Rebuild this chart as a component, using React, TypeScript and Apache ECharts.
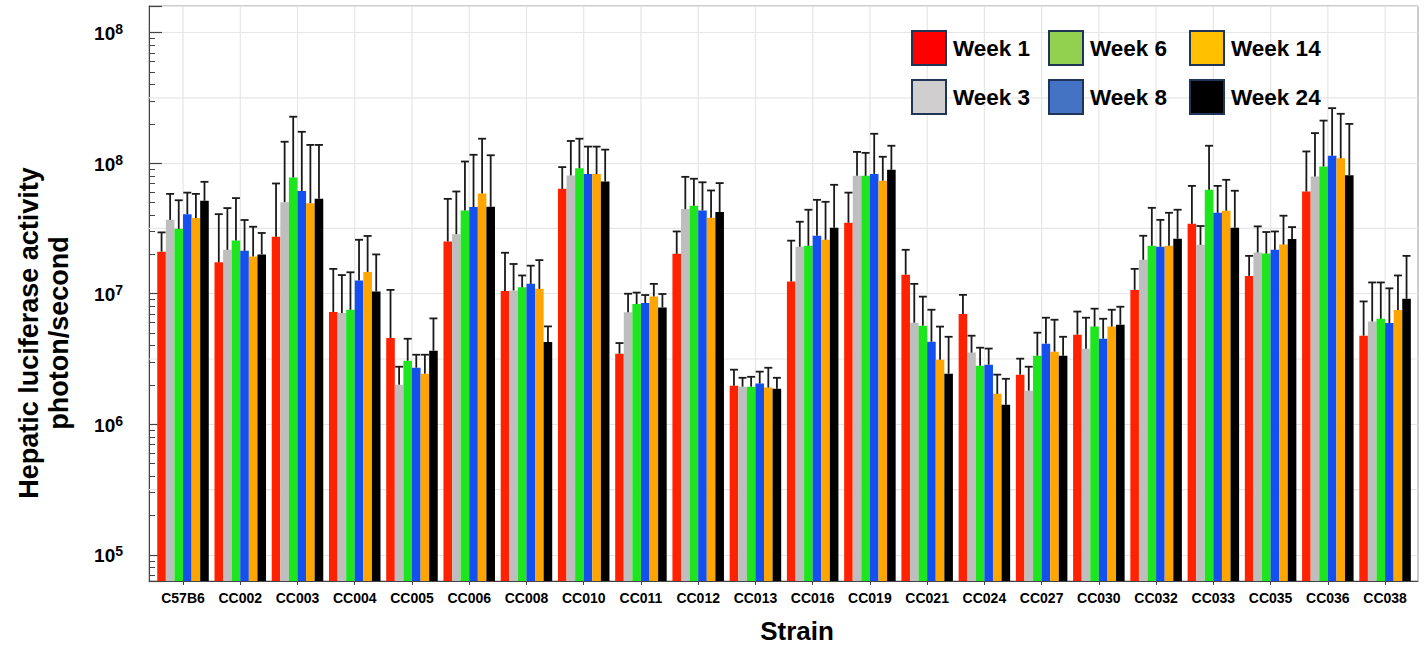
import React, { useEffect, useRef } from 'react';
import * as echarts from 'echarts';

// ---------- data ----------
const strains = ['C57B6', 'CC002', 'CC003', 'CC004', 'CC005', 'CC006', 'CC008', 'CC010', 'CC011', 'CC012', 'CC013',
  'CC016', 'CC019', 'CC021', 'CC024', 'CC027', 'CC030', 'CC032', 'CC033', 'CC035', 'CC036', 'CC038'];
const weeks = ['Week 1', 'Week 3', 'Week 6', 'Week 8', 'Week 14', 'Week 24'];

const week1 = [2.1e7, 1.74e7, 2.73e7, 7.25e6, 4.58e6, 2.51e7, 1.05e7, 6.36e7, 3.47e6, 2.02e7, 1.97e6, 1.24e7, 3.5e7, 1.4e7, 7.0e6, 2.4e6, 4.86e6, 1.07e7, 3.43e7, 1.37e7, 6.07e7, 4.77e6];
const week3 = [3.68e7, 2.17e7, 5.03e7, 7.11e6, 2.01e6, 2.86e7, 1.06e7, 8.06e7, 7.2e6, 4.45e7, 1.94e6, 2.29e7, 8.0e7, 6.0e6, 3.54e6, 1.81e6, 3.79e6, 1.82e7, 2.37e7, 2.07e7, 7.9e7, 6.13e6];
const week6 = [3.14e7, 2.56e7, 7.77e7, 7.54e6, 3.07e6, 4.34e7, 1.12e7, 9.15e7, 8.34e6, 4.72e7, 1.94e6, 2.33e7, 8.0e7, 5.69e6, 2.81e6, 3.35e6, 5.6e6, 2.33e7, 6.25e7, 2.03e7, 9.44e7, 6.43e6];
const week8 = [4.07e7, 2.13e7, 6.13e7, 1.26e7, 2.71e6, 4.61e7, 1.19e7, 8.26e7, 8.49e6, 4.34e7, 2.05e6, 2.78e7, 8.28e7, 4.29e6, 2.86e6, 4.14e6, 4.52e6, 2.29e7, 4.17e7, 2.17e7, 1.14e8, 5.96e6];
const week14 = [3.8e7, 1.93e7, 4.94e7, 1.47e7, 2.44e6, 5.86e7, 1.09e7, 8.26e7, 9.53e6, 3.82e7, 1.91e6, 2.59e7, 7.34e7, 3.12e6, 1.71e6, 3.6e6, 5.6e6, 2.33e7, 4.32e7, 2.38e7, 1.09e8, 7.5e6];
const week24 = [5.15e7, 2.0e7, 5.33e7, 1.04e7, 3.66e6, 4.63e7, 4.27e6, 7.24e7, 7.85e6, 4.22e7, 1.87e6, 3.2e7, 8.89e7, 2.44e6, 1.41e6, 3.35e6, 5.79e6, 2.64e7, 3.2e7, 2.62e7, 8.1e7, 9.15e6];

// upper ends of the error bars (mean + SD)
const week1Upper = [2.95e7, 4.07e7, 6.99e7, 1.55e7, 1.07e7, 5.33e7, 2.06e7, 9.33e7, 4.19e6, 3.0e7, 2.62e6, 2.55e7, 5.95e7, 2.17e7, 9.8e6, 3.18e6, 7.3e6, 1.55e7, 6.7e7, 1.95e7, 1.23e8, 8.73e6];
const week3Upper = [5.82e7, 4.53e7, 1.46e8, 1.39e7, 2.76e6, 6.07e7, 1.69e7, 1.48e8, 1.0e7, 7.86e7, 2.27e6, 3.56e7, 1.22e8, 1.19e7, 4.77e6, 2.76e6, 6.55e6, 2.78e7, 3.3e7, 3.28e7, 1.7e8, 1.22e7];
const week6Upper = [5.2e7, 5.4e7, 2.27e8, 1.46e7, 4.52e6, 1.03e8, 1.38e7, 1.54e8, 1.02e7, 7.6e7, 2.31e6, 4.4e7, 1.2e8, 9.5e6, 3.86e6, 5.03e6, 7.68e6, 4.55e7, 1.36e8, 2.97e7, 2.12e8, 1.22e7];
const week8Upper = [5.95e7, 3.67e7, 1.74e8, 2.59e7, 3.41e6, 1.16e8, 1.64e7, 1.34e8, 9.77e6, 7.14e7, 2.53e6, 5.24e7, 1.68e8, 7.54e6, 3.8e6, 6.55e6, 6.43e6, 3.68e7, 6.7e7, 3.0e7, 2.64e8, 1.1e7];
const week14Upper = [5.82e7, 3.26e7, 1.38e8, 2.77e7, 3.41e6, 1.54e8, 1.81e7, 1.34e8, 1.19e7, 6.18e7, 2.71e6, 5.06e7, 1.12e8, 5.6e6, 2.4e6, 6.32e6, 7.54e6, 4.17e7, 7.46e7, 3.96e7, 2.39e8, 1.38e7];
const week24Upper = [7.2e7, 2.92e7, 1.38e8, 2.0e7, 6.47e6, 1.15e8, 5.62e6, 1.27e8, 9.95e6, 7.04e7, 2.27e6, 6.83e7, 1.36e8, 4.68e6, 2.23e6, 4.68e6, 7.95e6, 4.4e7, 6.15e7, 3.24e7, 2.0e8, 1.95e7];

// y tick labels as printed on the figure (exponent shown for 1e5..1e9)
const yTickExponents = [5, 6, 7, 8, 9];
const yTickSuperscripts = ['5', '6', '7', '8', '8'];
const halfDecadeLines = [3.1623e5, 3.1623e6, 3.1623e7, 3.1623e8];

// ---------- styles ----------
const means = [week1, week3, week6, week8, week14, week24];
const uppers = [week1Upper, week3Upper, week6Upper, week8Upper, week14Upper, week24Upper];
const barColors = ['#ff2200', '#bebebe', '#1ee61e', '#1450f0', '#ffa500', '#000000'];
const legendColors = ['#ff0000', '#d0cece', '#92d050', '#4472c4', '#ffc000', '#000000'];
const Y_MIN = 6.3e4;
const Y_MAX = 1.6e9;
const FONT = '"Liberation Sans", Arial, sans-serif';
const GRID_COLOR = '#e6e6e6';
const BAR_CAT_GAP = 0.1;

export default function App() {
  const ref = useRef<HTMLDivElement>(null);

  useEffect(() => {
    document.body.style.margin = '0';
    if (!ref.current) return;
    const chart = echarts.init(ref.current, undefined, { renderer: 'svg' });

    const errSeries = means.map((m, s) => ({
      type: 'custom',
      xAxisIndex: 1,
      yAxisIndex: 1,
      z: 3,
      silent: true,
      data: m.map((v, i) => [i, v, uppers[s][i]]),
      renderItem: (params: any, api: any) => {
        const i = api.value(0);
        const p0 = api.coord([i, api.value(1)]);
        const p1 = api.coord([i, api.value(2)]);
        const band = api.coord([1, api.value(1)])[0] - api.coord([0, api.value(1)])[0];
        const bw = (band * (1 - BAR_CAT_GAP)) / 6;
        const x = p0[0] + (s - 2.5) * bw;
        const style = { stroke: '#1a1a1a', lineWidth: 1.8 };
        return {
          type: 'group',
          children: [
            { type: 'line', shape: { x1: x, y1: p0[1], x2: x, y2: p1[1] }, style },
            { type: 'line', shape: { x1: x - 4, y1: p1[1], x2: x + 4, y2: p1[1] }, style },
          ],
        };
      },
    }));

    const barSeries = means.map((m, s) => ({
      type: 'bar',
      name: weeks[s],
      xAxisIndex: 1,
      yAxisIndex: 1,
      data: m,
      barGap: '0%',
      barCategoryGap: `${BAR_CAT_GAP * 100}%`,
      itemStyle: { color: barColors[s] },
      z: 2,
      clip: true,
    }));

    const vGrid = {
      type: 'custom',
      xAxisIndex: 1,
      yAxisIndex: 1,
      z: 1,
      silent: true,
      data: strains.map((_, i) => [i, 1e6]),
      renderItem: (params: any, api: any) => {
        const cs = params.coordSys;
        const x = api.coord([api.value(0), api.value(1)])[0];
        return { type: 'line', shape: { x1: x, y1: cs.y, x2: x, y2: cs.y + cs.height }, style: { stroke: GRID_COLOR, lineWidth: 1.2 } };
      },
    };

    const hGrid = {
      type: 'custom',
      xAxisIndex: 0,
      yAxisIndex: 0,
      z: 1,
      silent: true,
      data: halfDecadeLines.map((v) => [0, v]),
      renderItem: (params: any, api: any) => {
        const cs = params.coordSys;
        const y = api.coord([0, api.value(1)])[1];
        return { type: 'line', shape: { x1: cs.x, y1: y, x2: cs.x + cs.width, y2: y }, style: { stroke: GRID_COLOR, lineWidth: 1.2 } };
      },
    };

    const legendCols = [912, 1049, 1190];
    const legendRows = [31, 80];
    const legendGraphics: any[] = [];
    weeks.forEach((w, s) => {
      const bx = legendCols[Math.floor(s / 2)];
      const by = legendRows[s % 2];
      legendGraphics.push({
        type: 'rect',
        shape: { x: bx, y: by, width: 34, height: 34 },
        style: { fill: legendColors[s], stroke: '#1f3557', lineWidth: 2 },
        z: 10,
      });
      legendGraphics.push({
        type: 'text',
        x: bx + 41,
        y: by + 17,
        style: { text: w, font: `bold 22.5px ${FONT}`, fill: '#000', align: 'left', verticalAlign: 'middle', textAlign: 'left', textVerticalAlign: 'middle' },
        z: 10,
      });
    });

    chart.setOption({
      animation: false,
      grid: [
        { left: 149, top: 6, width: 1269, height: 575, show: true, borderColor: '#9a9a9a', borderWidth: 1, backgroundColor: 'transparent' },
        { left: 154.4, top: 6, width: 1259.3, height: 575 },
      ],
      xAxis: [
        {
          gridIndex: 0, type: 'value', min: 0, max: 1,
          axisLine: { show: true, lineStyle: { color: '#444', width: 1 } },
          axisTick: { show: false }, axisLabel: { show: false }, splitLine: { show: false },
        },
        {
          gridIndex: 1, type: 'category', data: strains, boundaryGap: true,
          axisLine: { show: false },
          axisTick: { show: true, alignWithLabel: true, length: 4, lineStyle: { color: '#444' } },
          axisLabel: { interval: 0, margin: 10, fontSize: 14, fontWeight: 'bold', fontFamily: FONT, color: '#000' },
          splitLine: { show: false },
        },
      ],
      yAxis: [
        {
          gridIndex: 0, type: 'log', logBase: 10, min: Y_MIN, max: Y_MAX,
          axisLine: { show: true, lineStyle: { color: '#444', width: 1 } },
          axisTick: { show: true, inside: true, length: 13, lineStyle: { color: '#444', width: 1.2 } },
          minorTick: { show: true, splitNumber: 9, length: 6, lineStyle: { color: '#444', width: 1 } },
          splitLine: { show: true, lineStyle: { color: GRID_COLOR, width: 1.2 } },
          axisLabel: {
            margin: 26,
            showMinLabel: false,
            showMaxLabel: false,
            formatter: (v: number) => {
              const e = Math.log10(v);
              const k = yTickExponents.findIndex((x) => Math.abs(x - e) < 1e-6);
              return k < 0 ? '' : `{b|10}{s|${yTickSuperscripts[k]}}`;
            },
            rich: {
              b: { fontSize: 19, fontWeight: 'bold', fontFamily: FONT, color: '#000', lineHeight: 21, verticalAlign: 'bottom' },
              s: { fontSize: 14, fontWeight: 'bold', fontFamily: FONT, color: '#000', verticalAlign: 'top' },
            },
          },
        },
        { gridIndex: 1, type: 'log', logBase: 10, min: Y_MIN, max: Y_MAX, show: false, splitLine: { show: false } },
      ],
      series: [hGrid, vGrid, ...barSeries, ...errSeries],
      graphic: [
        ...legendGraphics,
        {
          type: 'text', x: 44, y: 333, rotation: Math.PI / 2,
          style: {
            text: 'Hepatic luciferase activity\nphoton/second', font: `bold 27px ${FONT}`, fill: '#000',
            align: 'center', verticalAlign: 'middle', textAlign: 'center', textVerticalAlign: 'middle', lineHeight: 30,
          },
        },
        {
          type: 'text', x: 797, y: 631,
          style: { text: 'Strain', font: `bold 26px ${FONT}`, fill: '#000', align: 'center', verticalAlign: 'middle', textAlign: 'center', textVerticalAlign: 'middle' },
        },
      ],
    });

    return () => chart.dispose();
  }, []);

  return <div ref={ref} style={{ width: 1426, height: 646 }} />;
}
